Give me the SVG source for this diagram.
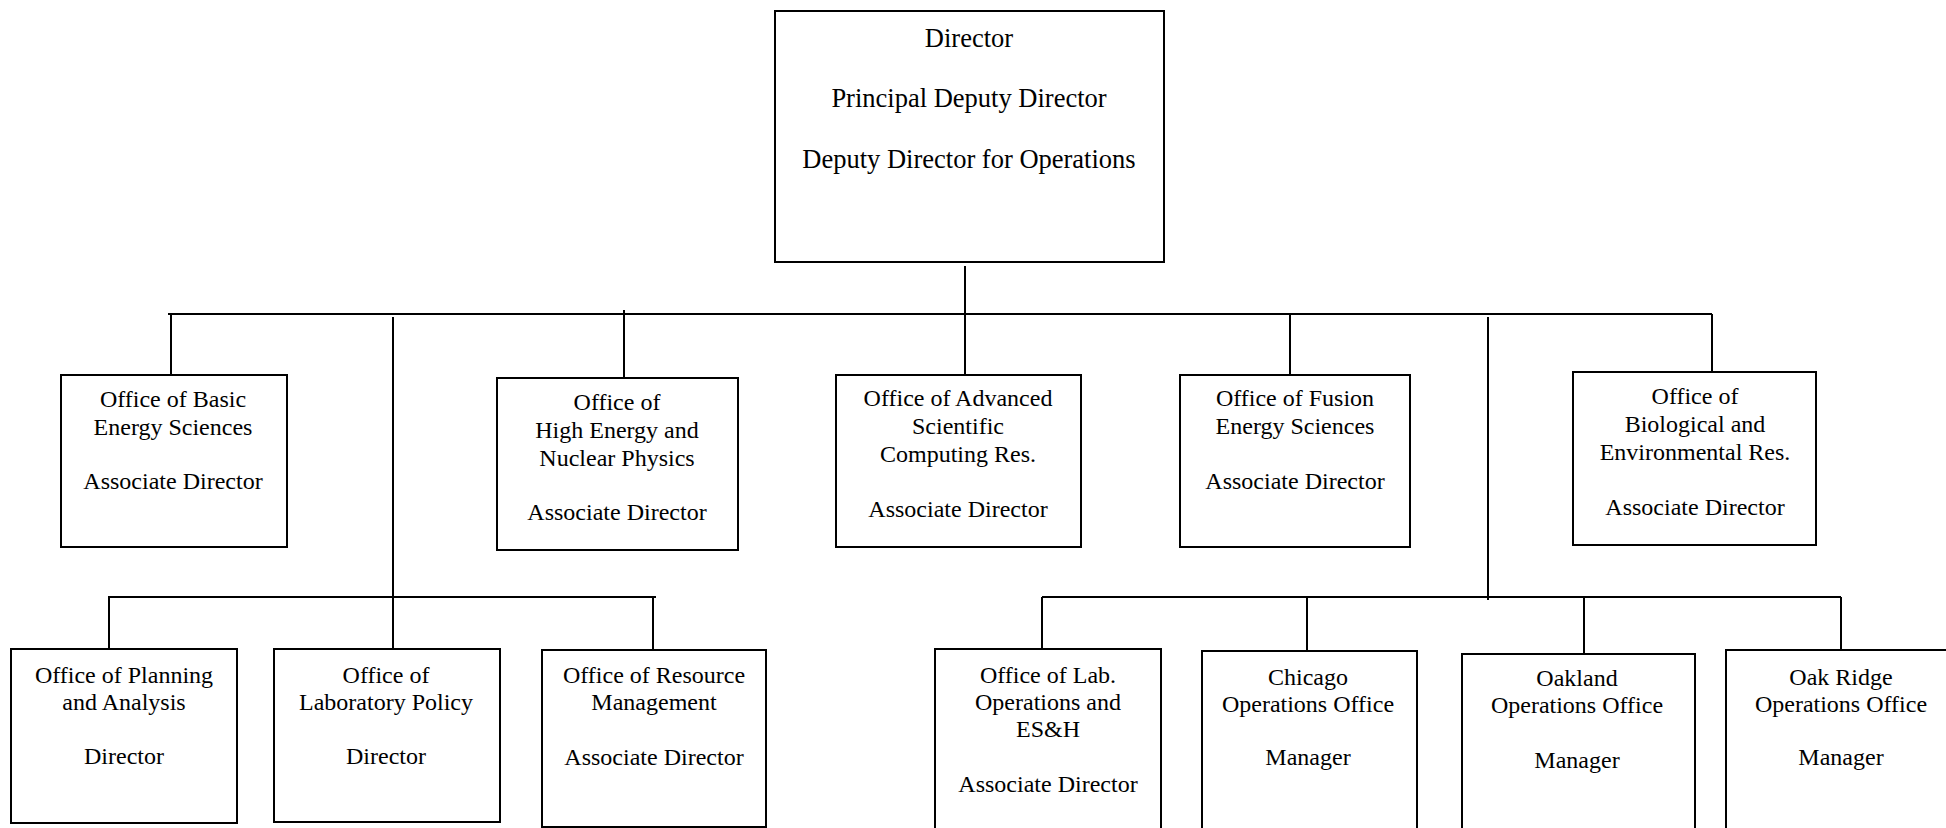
<svg xmlns="http://www.w3.org/2000/svg" width="1946" height="828" viewBox="0 0 1946 828">
<style>
.box{fill:#fff;stroke:#000;stroke-width:2}
.ln{stroke:#000;stroke-width:2;fill:none}
text{font-family:"Liberation Serif","Times New Roman",serif;font-size:24px;fill:#000;text-anchor:middle}
.big{font-size:26.5px}
</style>
<rect width="1946" height="828" fill="#fff"/>
<g id="connectors">
<line class="ln" x1="965" y1="266" x2="965" y2="314"/>
<line class="ln" x1="168" y1="314" x2="1712" y2="314"/>
<line class="ln" x1="171" y1="314" x2="171" y2="375"/>
<line class="ln" x1="624" y1="310" x2="624" y2="378"/>
<line class="ln" x1="965" y1="314" x2="965" y2="375"/>
<line class="ln" x1="1290" y1="313" x2="1290" y2="375"/>
<line class="ln" x1="1712" y1="314" x2="1712" y2="373"/>
<line class="ln" x1="393" y1="317" x2="393" y2="649"/>
<line class="ln" x1="1488" y1="317" x2="1488" y2="600"/>
<line class="ln" x1="108" y1="597" x2="656" y2="597"/>
<line class="ln" x1="109" y1="597" x2="109" y2="649"/>
<line class="ln" x1="653" y1="597" x2="653" y2="650"/>
<line class="ln" x1="1042" y1="597" x2="1841" y2="597"/>
<line class="ln" x1="1042" y1="597" x2="1042" y2="649"/>
<line class="ln" x1="1307" y1="597" x2="1307" y2="651"/>
<line class="ln" x1="1584" y1="597" x2="1584" y2="654"/>
<line class="ln" x1="1841" y1="597" x2="1841" y2="650"/>
</g>
<g id="director">
<rect class="box" x="775" y="11" width="389" height="251"/>
<text class="big" x="969" y="47">Director</text>
<text class="big" x="969" y="107">Principal Deputy Director</text>
<text class="big" x="969" y="168">Deputy Director for Operations</text>
</g>
<g id="basic">
<rect class="box" x="61" y="375" width="226" height="172"/>
<text x="173" y="407">Office of Basic</text>
<text x="173" y="435">Energy Sciences</text>
<text x="173" y="489">Associate Director</text>
</g>
<g id="highenergy">
<rect class="box" x="497" y="378" width="241" height="172"/>
<text x="617" y="410">Office of</text>
<text x="617" y="438">High Energy and</text>
<text x="617" y="466">Nuclear Physics</text>
<text x="617" y="520">Associate Director</text>
</g>
<g id="advanced">
<rect class="box" x="836" y="375" width="245" height="172"/>
<text x="958" y="406">Office of Advanced</text>
<text x="958" y="434">Scientific</text>
<text x="958" y="462">Computing Res.</text>
<text x="958" y="517">Associate Director</text>
</g>
<g id="fusion">
<rect class="box" x="1180" y="375" width="230" height="172"/>
<text x="1295" y="406">Office of Fusion</text>
<text x="1295" y="434">Energy Sciences</text>
<text x="1295" y="489">Associate Director</text>
</g>
<g id="bio">
<rect class="box" x="1573" y="372" width="243" height="173"/>
<text x="1695" y="404">Office of</text>
<text x="1695" y="432">Biological and</text>
<text x="1695" y="460">Environmental Res.</text>
<text x="1695" y="515">Associate Director</text>
</g>
<g id="planning">
<rect class="box" x="11" y="649" width="226" height="174"/>
<text x="124" y="683">Office of Planning</text>
<text x="124" y="710">and Analysis</text>
<text x="124" y="764">Director</text>
</g>
<g id="labpolicy">
<rect class="box" x="274" y="649" width="226" height="173"/>
<text x="386" y="683">Office of</text>
<text x="386" y="710">Laboratory Policy</text>
<text x="386" y="764">Director</text>
</g>
<g id="resource">
<rect class="box" x="542" y="650" width="224" height="177"/>
<text x="654" y="683">Office of Resource</text>
<text x="654" y="710">Management</text>
<text x="654" y="765">Associate Director</text>
</g>
<g id="labops">
<rect class="box" x="935" y="649" width="226" height="190"/>
<text x="1048" y="683">Office of Lab.</text>
<text x="1048" y="710">Operations and</text>
<text x="1048" y="737">ES&amp;H</text>
<text x="1048" y="792">Associate Director</text>
</g>
<g id="chicago">
<rect class="box" x="1202" y="651" width="215" height="190"/>
<text x="1308" y="685">Chicago</text>
<text x="1308" y="712">Operations Office</text>
<text x="1308" y="765">Manager</text>
</g>
<g id="oakland">
<rect class="box" x="1462" y="654" width="233" height="190"/>
<text x="1577" y="686">Oakland</text>
<text x="1577" y="713">Operations Office</text>
<text x="1577" y="768">Manager</text>
</g>
<g id="oakridge">
<rect class="box" x="1726" y="650" width="240" height="190"/>
<text x="1841" y="685">Oak Ridge</text>
<text x="1841" y="712">Operations Office</text>
<text x="1841" y="765">Manager</text>
</g>
</svg>
